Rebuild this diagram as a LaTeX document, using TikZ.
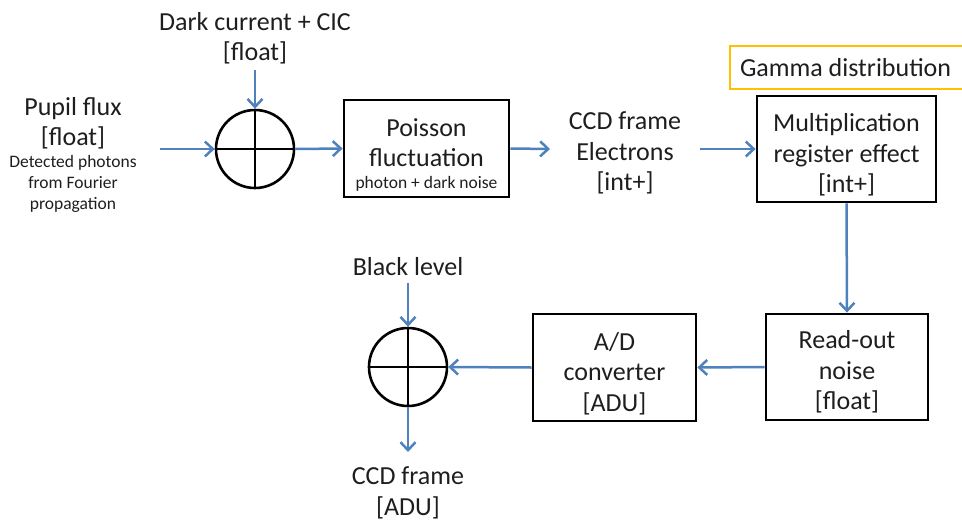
\documentclass[tikz,border=0pt]{standalone}
\usepackage{fontspec}
\setmainfont{Carlito}
\usetikzlibrary{arrows.meta}
\definecolor{flowblue}{RGB}{79,129,189}
\definecolor{gammayellow}{RGB}{255,192,0}
\definecolor{inkgray}{RGB}{30,30,30}
\tikzset{
  big/.style={font=\fontsize{26}{30.5}\selectfont, text=inkgray, align=center},
  small/.style={font=\fontsize{17.5}{21}\selectfont, text=inkgray, align=center},
  blockbox/.style={draw=black, line width=2.8, inner sep=0},
  sumnode/.style={draw=black, line width=2.6, circle, minimum size=78, inner sep=0},
  flow/.style={draw=flowblue, line width=2.5, -{Straight Barb[length=8,width=15,line width=2.5]}},
}
\newcommand{\smalltxt}{\fontsize{17.5}{21}\selectfont}
\begin{document}
\begin{tikzpicture}[x=1pt, y=-1pt]
\clip (0,0) rectangle (962,523);

% top row
\node[big] (dark) at (255,38) {Dark current + CIC\\{[float]}};
\node[big] (pupil) at (73,123) {Pupil flux\\{[float]}};
\node[small] (pupilnote) at (73,184) {Detected photons\\from Fourier\\propagation};
\node[sumnode] (sumA) at (255,149) {};
\draw[line width=2.6] (sumA.north) -- (sumA.south) (sumA.west) -- (sumA.east);

\node[blockbox, minimum width=165, minimum height=97] (poisson) at (426.5,148.5) {};
\node[big] (poissontxt) at ([yshift=-6]poisson.center)
  {Poisson\\fluctuation\\[-9pt]{\smalltxt photon + dark noise}};
\node[big] (ccd) at (625,153) {CCD frame\\Electrons\\{[int+]}};
\node[blockbox, minimum width=179, minimum height=106] (mult) at (846.5,149) {};
\node[big] (multtxt) at ([yshift=-6]mult.center)
  {Multiplication\\register effect\\{[int+]}};
\node[draw=gammayellow, line width=2, big, anchor=west, text width=230, align=flush left,
  inner xsep=10, minimum height=43] (gamma) at (729,67.5) {Gamma distribution};

% bottom row
\node[blockbox, minimum width=162, minimum height=106] (readout) at (847,367) {};
\node[big] (readouttxt) at ([yshift=-5]readout.center) {Read-out\\noise\\{[float]}};
\node[blockbox, minimum width=163, minimum height=107] (adc) at (614.5,367.5) {};
\node[big] (adctxt) at ([yshift=-6]adc.center) {A/D\\converter\\{[ADU]}};
\node[sumnode] (sumB) at (408,367) {};
\draw[line width=2.6] (sumB.north) -- (sumB.south) (sumB.west) -- (sumB.east);
\node[big] (black) at (408,267) {Black level};
\node[big] (out) at (408,493) {CCD frame\\{[ADU]}};

% free ends of the connectors
\coordinate (pupilend) at (160,149);
\coordinate (darkend) at (255,70);
\coordinate (ccdin) at (550,149);
\coordinate (ccdout) at (700,149);
\coordinate (blackend) at (408,283);
\coordinate (outend) at (408,452);

% connectors
\draw[flow] (pupilend) -- (sumA.west);
\draw[flow] (darkend) -- (sumA.north);
\draw[flow] (sumA.east) -- (poisson.west);
\draw[flow] (poisson.east) -- (ccdin);
\draw[flow] (ccdout) -- (mult.west);
\draw[flow] (mult.south) -- (readout.north);
\draw[flow] (readout.west) -- (adc.east);
\draw[flow] (adc.west) -- (sumB.east);
\draw[flow] (blackend) -- (sumB.north);
\draw[flow] (sumB.south) -- (outend);
\end{tikzpicture}
\end{document}
